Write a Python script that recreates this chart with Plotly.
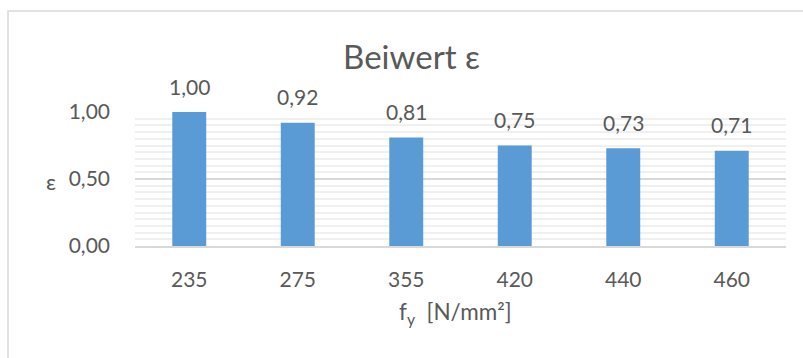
import plotly.graph_objects as go

categories = ["235", "275", "355", "420", "440", "460"]
values = [1.00, 0.92, 0.81, 0.75, 0.73, 0.71]
y_ticks = [0.0, 0.5, 1.0]

TXT = "#595959"
FONT = "Lato"

W, H = 803, 358
L, R, T, B = 135, 17, 112, 112
PW = W - L - R
PH = H - T - B

def px_x(px):
    return (px - L) / PW

def px_y(py):
    return (H - B - py) / PH

fig = go.Figure()
fig.add_trace(go.Bar(
    x=categories, y=values,
    marker=dict(color="#5b9bd5", line=dict(width=0)),
    hoverinfo="skip",
))

# data labels (category axis annotations use the category serial number)
for i, v in enumerate(values):
    fig.add_annotation(
        x=i, y=v, xref="x", yref="y",
        text=f"{v:.2f}".replace(".", ","),
        showarrow=False, yanchor="middle", yshift=26,
        font=dict(family=FONT, size=21, color=TXT),
    )

# y-axis title
fig.add_annotation(
    x=px_x(51), y=0.5, xref="paper", yref="y", yshift=-2,
    text="ε", showarrow=False, xanchor="center", yanchor="middle",
    font=dict(family=FONT, size=22, color=TXT),
)
# x-axis title
fig.add_annotation(
    x=px_x(455), y=px_y(313), xref="paper", yref="paper",
    text="f<sub>y</sub>  [N/mm²]", showarrow=False,
    xanchor="center", yanchor="middle",
    font=dict(family=FONT, size=22.5, color=TXT),
)

# chart border (Excel chart area)
fig.add_shape(
    type="rect", xref="paper", yref="paper",
    x0=px_x(8), x1=px_x(830), y0=px_y(380), y1=px_y(11),
    line=dict(color="#d9d9d9", width=1.5), fillcolor="rgba(0,0,0,0)",
    layer="below",
)

fig.update_layout(
    width=W, height=H,
    margin=dict(l=L, r=R, t=T, b=B),
    paper_bgcolor="white", plot_bgcolor="white",
    separators=", ",
    showlegend=False,
    bargap=0.687,
    title=dict(
        text="Beiwert ε", x=411.5 / W, xref="container", xanchor="center",
        y=1 - 57 / H, yref="container", yanchor="middle",
        font=dict(family=FONT, size=33, color=TXT),
    ),
    font=dict(family=FONT, color=TXT),
    xaxis=dict(
        type="category", range=[-0.5, len(categories) - 0.5],
        showgrid=False,
        showline=True, linecolor="#d9d9d9", linewidth=1.5,
        ticks="", ticklabelstandoff=14,
        tickfont=dict(family=FONT, size=21, color=TXT),
    ),
    yaxis=dict(
        range=[0, 1.0], tickvals=y_ticks, tickformat=".2f",
        showgrid=True, gridcolor="#d9d9d9", gridwidth=1.5,
        zeroline=False, showline=False, ticks="",
        ticklabelstandoff=24,
        tickfont=dict(family=FONT, size=21, color=TXT),
        minor=dict(dtick=0.05, showgrid=True, gridcolor="#f0f0f0", gridwidth=1.5),
    ),
)

fig.write_html("out.html")
